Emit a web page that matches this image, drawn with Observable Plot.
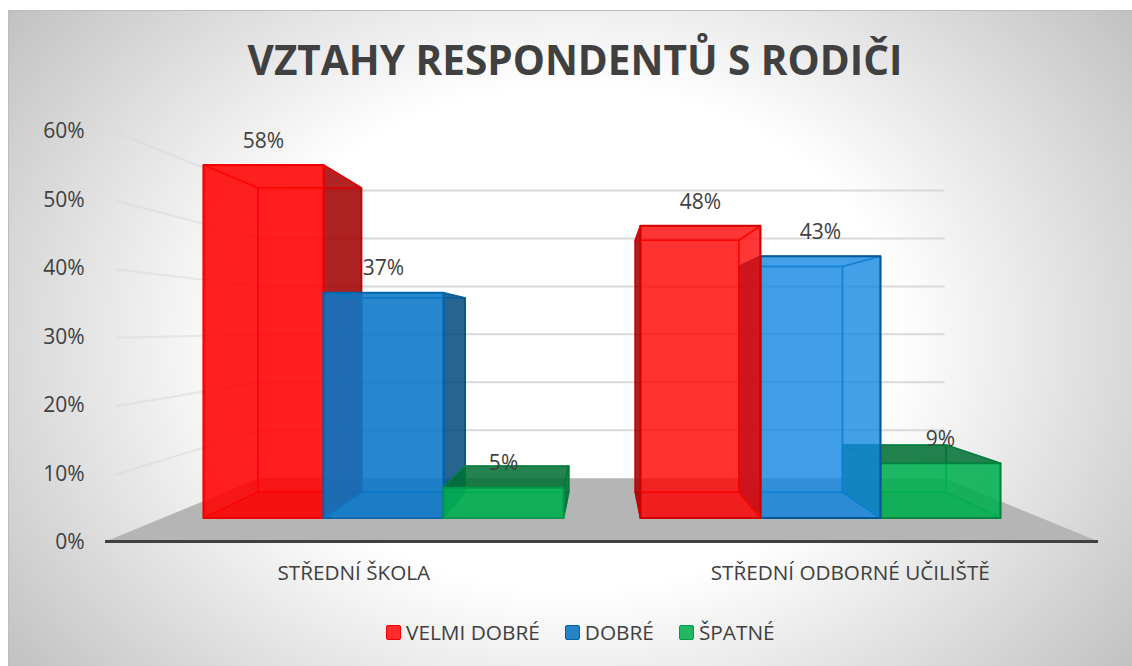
<!DOCTYPE html>
<html><head><meta charset="utf-8">
<script src="https://cdn.jsdelivr.net/npm/d3@7"></script>
<script src="https://cdn.jsdelivr.net/npm/@observablehq/plot@0.6"></script>
<style>
html,body{margin:0;padding:0;background:#fff;width:1132px;height:666px;overflow:hidden;font-family:"Open Sans",sans-serif;color:#404040}
#frame{position:absolute;left:8px;top:10px;width:1124px;height:656px;box-sizing:border-box;border:1px solid #bdbdbd;border-width:1px 0 0 1px;
background:radial-gradient(ellipse 72% 96% at 50% 50%,#fff 0%,#fff 40%,#b0b0b0 100%)}
#title{position:absolute;left:0;top:0;width:1150px;text-align:center;height:100px;line-height:100px;font-size:40.5px;font-weight:700;margin:10px 0 0 0}
#chart{position:absolute;left:0;top:100px}
#chart svg{background:transparent;overflow:visible}
#legend{position:absolute;left:386px;top:618px;display:flex;align-items:center;font-size:20.8px;line-height:28px;white-space:nowrap}
#legend i{display:inline-block;width:13px;height:13px;border-width:1.5px;border-style:solid;border-radius:2px;margin-right:5px}
#legend span{display:flex;align-items:center;margin-right:25px}
</style></head>
<body>
<div id="frame"></div>
<div id="title">VZTAHY RESPONDENTŮ S RODIČI</div>
<div id="chart"></div>
<div id="legend"></div>
<script>
const categories = ["STŘEDNÍ ŠKOLA", "STŘEDNÍ ODBORNÉ UČILIŠTĚ"];
const seriesNames = ["VELMI DOBRÉ", "DOBRÉ", "ŠPATNÉ"];
const velmiDobre = [58, 48];
const dobre = [37, 43];
const spatne = [5, 9];
const yTicks = [0, 10, 20, 30, 40, 50, 60];
const seriesColors = ["#ff0000", "#0a78c8", "#00b050"];
const frontColors = [["#ff0000", "#0a78c8", "#00b050"], ["#ff0000", "#1186e0", "#00b050"]];
const edgeColors = ["#f00000", "#0065ad", "#009a48"];
const legendFills = ["#ff2a2a", "#2683c6", "#22b863"];
const frontAlpha = [[0.87, 0.87, 0.87], [0.78, 0.78, 0.87]];

const values = [velmiDobre, dobre, spatne];
// oblique projection of the Excel 3-D box into the chart's own data space
const vanish = {x: 1, y: 30.8};
const planes = {
  axis:  {sx: 1,    sy: 1},
  front: {sx: 0.88, sy: 0.889},
  back:  {sx: 0.76, sy: 0.766},
  wall:  {sx: 0.69, sy: 0.70}
};
const project = (x, v, plane) => ({
  x: vanish.x + (x - vanish.x) * planes[plane].sx,
  y: vanish.y + (v - vanish.y) * planes[plane].sy
});
const slot = 0.2747;
const barLeft = (c, s) => c + 0.5 - 1.5 * slot + s * slot;

const poly = (pts, fill, fillOpacity, stroke, strokeOpacity = 0.9, strokeWidth = 1.5) =>
  Plot.line(pts, {x: "x", y: "y", curve: "linear-closed", fill, fillOpacity, stroke, strokeWidth, strokeOpacity});
const shade = (col, k) => { const c = d3.rgb(col); return d3.rgb(c.r * k, c.g * k, c.b * k).formatHex(); };

function barFaces(c, s) {
  const v = values[s][c], col = seriesColors[s], edge = edgeColors[s];
  const x0 = barLeft(c, s), x1 = x0 + slot;
  const P = (x, val, pl) => project(x, val, pl);
  const dark = shade(col, 0.63), darkEdge = shade(edge, 0.8);
  const leftFace  = [P(x0,0,"front"),P(x0,0,"back"),P(x0,v,"back"),P(x0,v,"front")];
  const rightFace = [P(x1,0,"front"),P(x1,0,"back"),P(x1,v,"back"),P(x1,v,"front")];
  const outer = c === 0 ? rightFace : leftFace, inner = c === 0 ? leftFace : rightFace;
  const backFace  = [P(x0,0,"back"),P(x1,0,"back"),P(x1,v,"back"),P(x0,v,"back")];
  const bottom    = [P(x0,0,"front"),P(x1,0,"front"),P(x1,0,"back"),P(x0,0,"back")];
  const top       = [P(x0,v,"front"),P(x1,v,"front"),P(x1,v,"back"),P(x0,v,"back")];
  const frontFace = [P(x0,0,"front"),P(x1,0,"front"),P(x1,v,"front"),P(x0,v,"front")];
  const seenFromAbove = v < vanish.y;
  return [
    poly(backFace, col, 0.12, edge, 0.7),
    poly(inner, col, 0.04, edge, 0.7),
    poly(bottom, shade(col, 0.8), 0.25, edge, 0.7),
    poly(outer, dark, 0.85, darkEdge),
    seenFromAbove ? poly(top, dark, 0.85, darkEdge) : poly(top, col, 0.04, edge, 0.7),
    poly(frontFace, frontColors[c][s], frontAlpha[c][s], shade(edge, c ? 0.85 : 1), 0.95, 2)
  ];
}

const floor = [
  project(0, 0, "axis"), project(2, 0, "axis"),
  project(2, 0, "wall"), project(0, 0, "wall")
];
const grid = yTicks.slice(1).map(t => ({t}));
const gridColor = "#d9d9d9";

const marks = [
  Plot.line(floor, {x: "x", y: "y", curve: "linear-closed", fill: "#b5b5b5", stroke: "none"}),
  Plot.link(grid, {
    x1: () => project(0, 0, "axis").x + 0.02, y1: d => d.t - 0.25,
    x2: () => project(0, 0, "wall").x, y2: d => project(0, d.t, "wall").y,
    stroke: gridColor, strokeWidth: 2, strokeOpacity: 0.55}),
  Plot.link(grid, {
    x1: () => project(0, 0, "wall").x, y1: d => project(0, d.t, "wall").y,
    x2: () => project(2, 0, "wall").x, y2: d => project(0, d.t, "wall").y,
    stroke: gridColor, strokeWidth: 2}),
  Plot.ruleY([0], {stroke: "#404040", strokeWidth: 3}),
  Plot.axisY({ticks: yTicks, tickSize: 0, tickPadding: 21, tickFormat: d => d + "%",
    fontSize: 21, label: null, fill: "#404040", dy: 1}),
  Plot.axisX({ticks: [0.5, 1.5], tickSize: 0, tickPadding: 24, tickFormat: d => categories[Math.floor(d)],
    fontSize: 20.7, label: null, fill: "#404040"})
];
for (const s of [0, 1, 2]) marks.push(...barFaces(0, s));
for (const s of [2, 1, 0]) marks.push(...barFaces(1, s));

const labels = [];
values.forEach((vals, s) => vals.forEach((v, c) => {
  const p = project(barLeft(c, s) + slot / 2, v, "front");
  labels.push({...p, text: v + "%"});
}));
marks.push(Plot.text(labels, {x: "x", y: "y", text: "text", dy: -24, fontSize: 21, fill: "#404040"}));

const chart = Plot.plot({
  width: 1132, height: 505,
  marginLeft: 105, marginRight: 34, marginTop: 30, marginBottom: 64,
  style: {background: "transparent", fontFamily: "'Open Sans',sans-serif", overflow: "visible"},
  x: {domain: [0, 2], axis: null},
  y: {domain: [0, 60], axis: null},
  marks
});
document.getElementById("chart").append(chart);

const legend = document.getElementById("legend");
seriesNames.forEach((n, i) => {
  const sp = document.createElement("span");
  const sw = document.createElement("i");
  sw.style.background = legendFills[i];
  sw.style.borderColor = edgeColors[i];
  sp.append(sw, document.createTextNode(n));
  legend.append(sp);
});
</script>
</body></html>
